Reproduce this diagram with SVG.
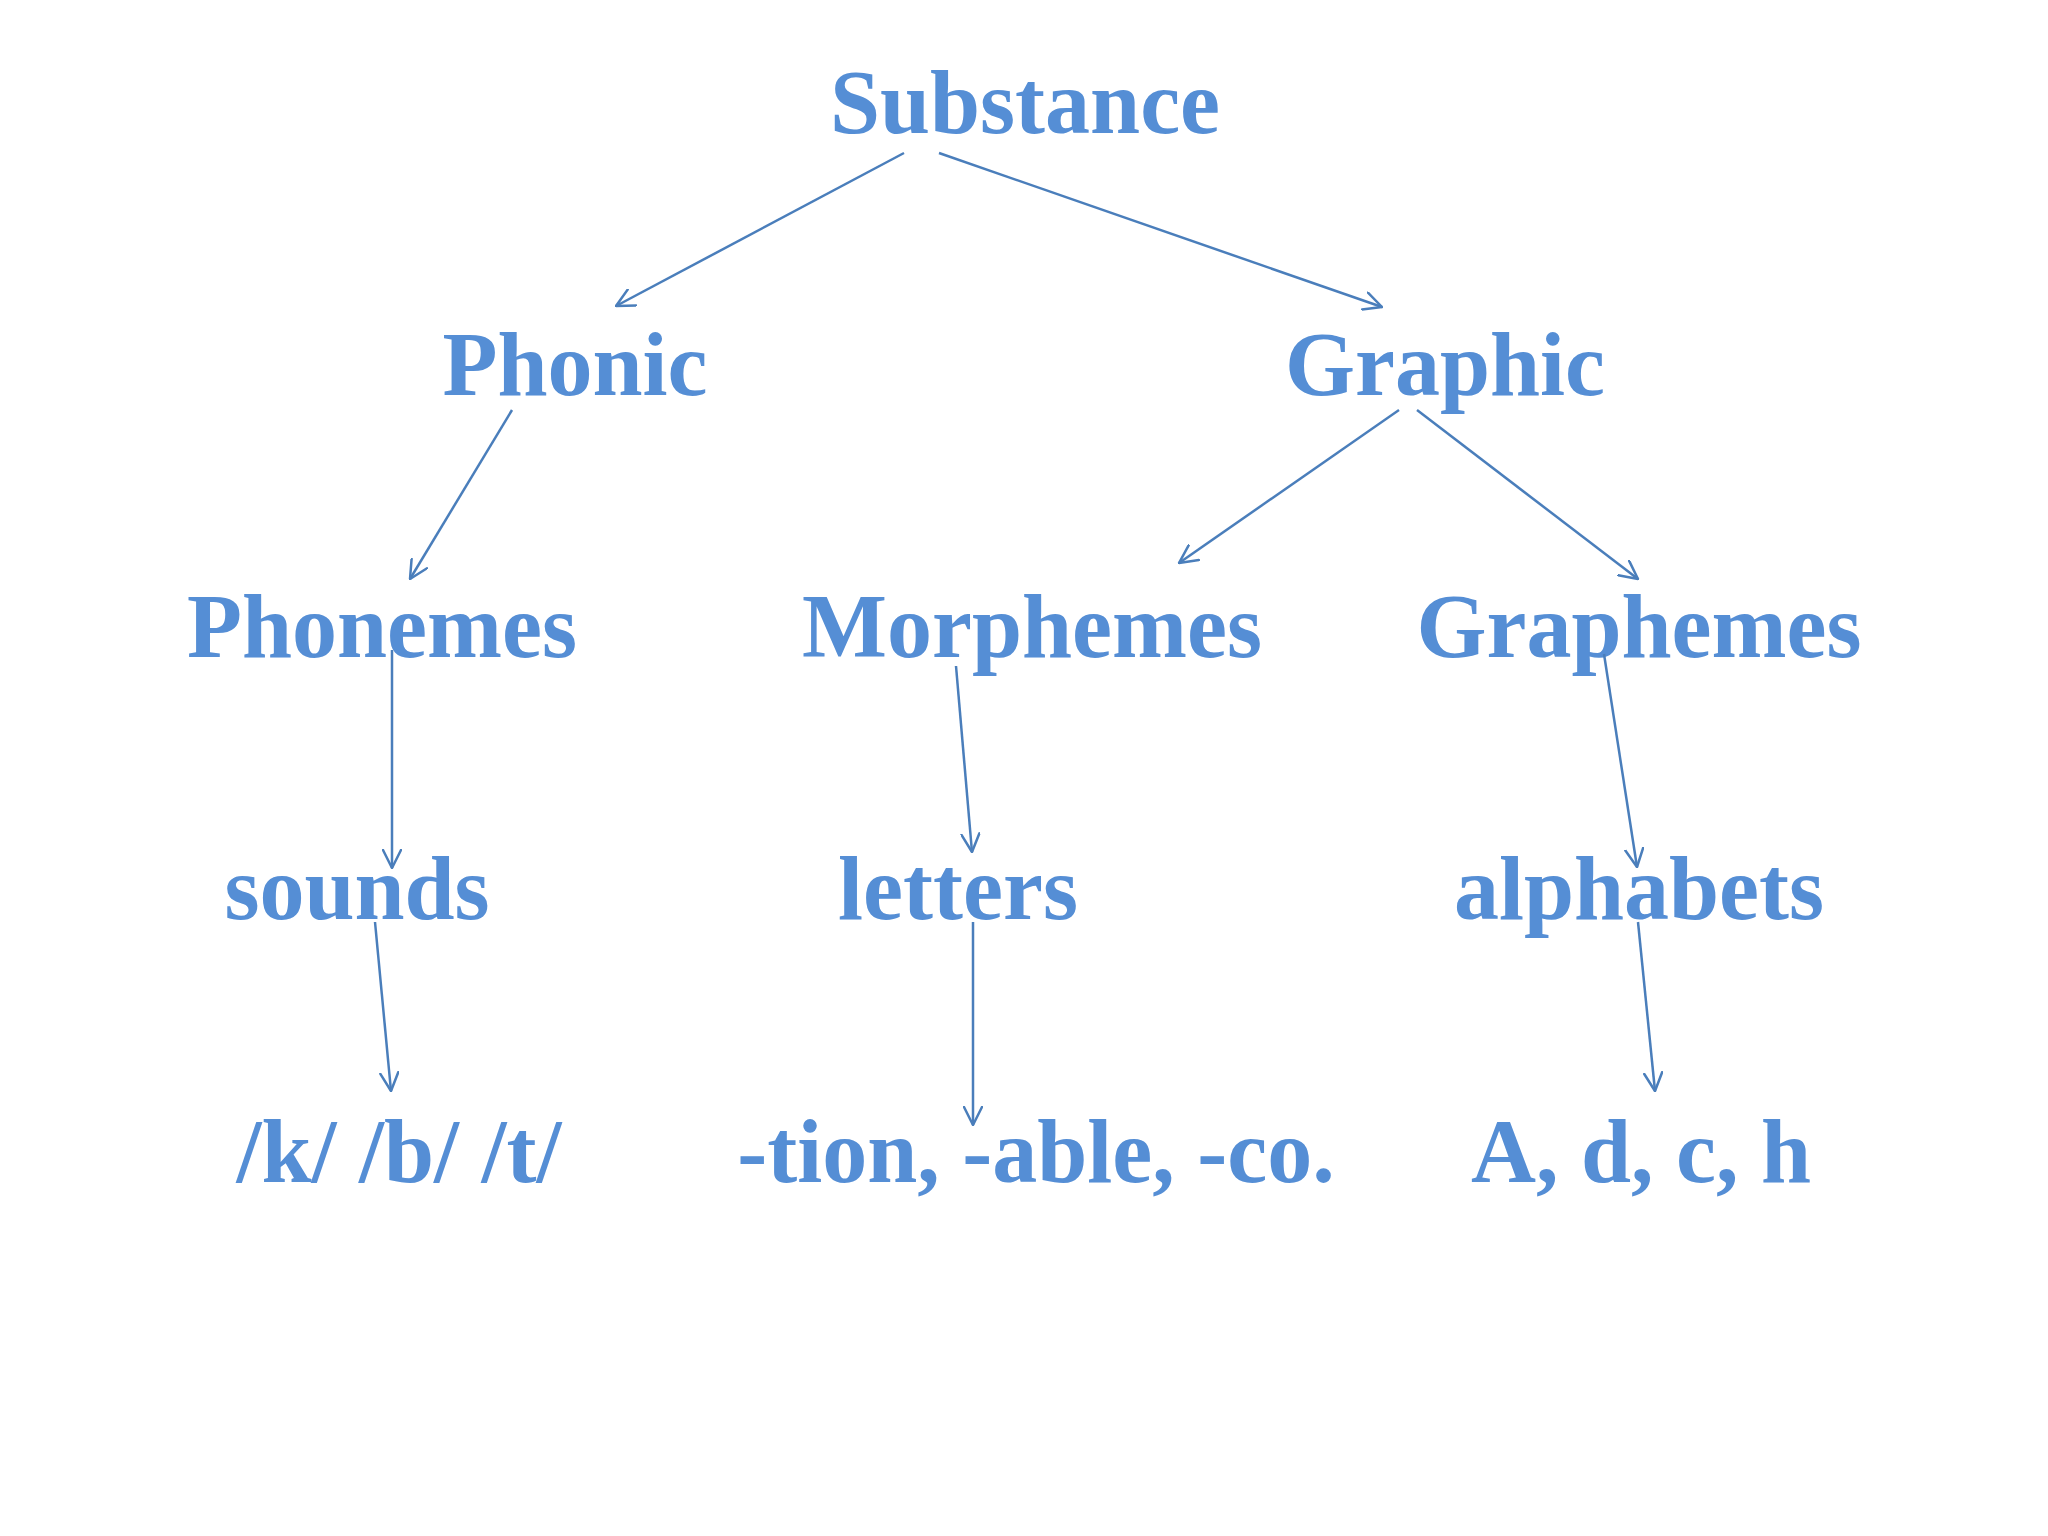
<svg xmlns="http://www.w3.org/2000/svg" width="2048" height="1536" viewBox="0 0 2048 1536">
  <style>
    .lbl { font-family: "Liberation Serif", "Times New Roman", serif; font-weight: bold; font-size: 90px; fill: #558ED5; text-anchor: middle; }
    .conn { stroke: #4A7EBB; stroke-width: 2.5; fill: none; marker-end: url(#arrow); }
  </style>
  <defs>
    <marker id="arrow" viewBox="0 0 20 20" refX="19" refY="10" markerWidth="20" markerHeight="20" markerUnits="userSpaceOnUse" orient="auto">
      <path d="M1,1 L19,10 L1,19" fill="none" stroke="#4A7EBB" stroke-width="2.5" stroke-linecap="round" stroke-linejoin="round"/>
    </marker>
  </defs>
  <rect x="0" y="0" width="2048" height="1536" fill="#FFFFFF"/>

  <g id="node-substance"><text class="lbl" x="1025" y="133">Substance</text></g>
  <g id="node-phonic"><text class="lbl" x="575" y="395">Phonic</text></g>
  <g id="node-graphic"><text class="lbl" x="1445" y="395">Graphic</text></g>
  <g id="node-phonemes"><text class="lbl" x="382" y="657">Phonemes</text></g>
  <g id="node-morphemes"><text class="lbl" x="1032" y="657">Morphemes</text></g>
  <g id="node-graphemes"><text class="lbl" x="1639" y="657">Graphemes</text></g>
  <g id="node-sounds"><text class="lbl" x="357" y="919">sounds</text></g>
  <g id="node-letters"><text class="lbl" x="958" y="919">letters</text></g>
  <g id="node-alphabets"><text class="lbl" x="1639" y="919">alphabets</text></g>
  <g id="node-kbt"><text class="lbl" x="399" y="1182">/k/ /b/ /t/</text></g>
  <g id="node-suffixes"><text class="lbl" x="1036" y="1182">-tion, -able, -co.</text></g>
  <g id="node-adch"><text class="lbl" x="1641" y="1182">A, d, c, h</text></g>

  <g id="connectors">
    <line class="conn" x1="904" y1="153" x2="616" y2="306"/>
    <line class="conn" x1="939" y1="153" x2="1382" y2="307"/>
    <line class="conn" x1="512" y1="410" x2="410" y2="579"/>
    <line class="conn" x1="1399" y1="410" x2="1179" y2="563"/>
    <line class="conn" x1="1417" y1="410" x2="1638" y2="579"/>
    <line class="conn" x1="392" y1="650" x2="392" y2="868"/>
    <line class="conn" x1="956" y1="666" x2="972" y2="852"/>
    <line class="conn" x1="1604" y1="654" x2="1637" y2="867"/>
    <line class="conn" x1="375" y1="922" x2="391" y2="1091"/>
    <line class="conn" x1="973" y1="922" x2="973" y2="1125"/>
    <line class="conn" x1="1638" y1="922" x2="1655" y2="1091"/>
  </g>
</svg>
